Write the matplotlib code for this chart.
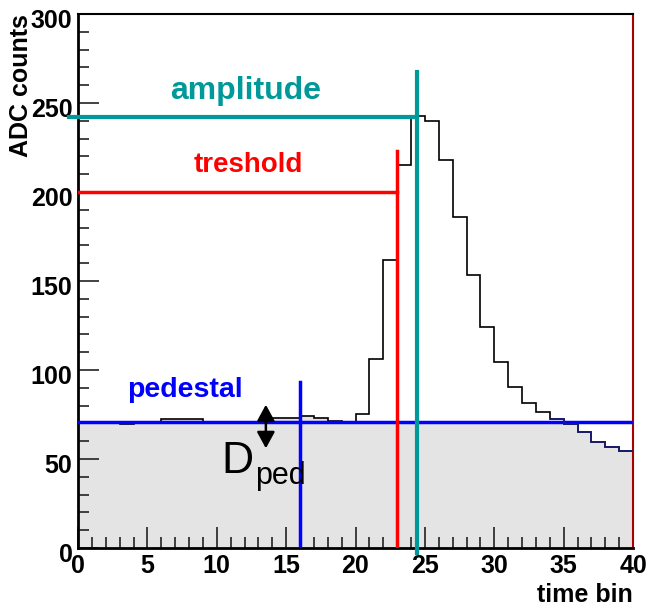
import numpy as np
import matplotlib.pyplot as plt
import matplotlib.transforms as mtransforms

plt.rcParams['font.family'] = ['Liberation Sans', 'DejaVu Sans']

# contenido de los bins (ADC counts por time bin)
edges = np.arange(0, 41)
counts = [71, 71, 71, 69.5, 70.5, 71, 72.3, 72.3, 72.3, 71,
          71, 71, 71, 71, 73.2, 73.2, 74.3, 73, 71.5, 70,
          75.3, 106.4, 161.8, 215, 242.5, 240, 218, 186, 153.4, 124.3,
          104.5, 90.3, 81.3, 76.4, 72.5, 69.5, 65.4, 59.7, 56.6, 54.5]
# parte rellena (gris) debajo del pedestal
fill_counts = [71, 71, 71, 69.5, 70.5, 71, 72.3, 72.3, 72.3, 71,
               71, 71, 71, 71, 73.2, 73.2, 74.3, 73, 71, 70,
               71, 71, 71, 71, 71, 71, 71, 71, 71, 71,
               71, 71, 71, 71, 71, 69.5, 65.4, 59.7, 56.6, 54.5]

pedestal = 71
ped_bin = 16.0
ped_top = 93.5
threshold = 200
thr_bin = 23.0
thr_top = 223
amplitude = 242.3
amp_bin = 24.43
amp_top = 267.5
arrow_bin = 13.54
arrow_y = (56, 80.5)

teal = '#009999'
red = '#ff0000'
blue = '#0000ff'

fig = plt.figure(figsize=(6.48, 6.10), dpi=100)
ax = fig.add_axes([78/648, 1-548/610, (633-78)/648, (548-14)/610])

ax.stairs(fill_counts, edges, fill=True, color='#e4e4e4', zorder=1)
ax.stairs(counts, edges, baseline=None, color='k', lw=1.2, zorder=2)
ax.stairs(counts[34:], edges[34:], baseline=None, color='#1a1a7a', lw=1.2, zorder=4)

# pedestal
ax.axhline(pedestal, color=blue, lw=2.5, zorder=3)
ax.plot([ped_bin, ped_bin], [0, ped_top], color=blue, lw=2.5, zorder=3)
ax.text(7.7, 89, 'pedestal', color=blue, fontsize=20.5, fontweight='bold',
        ha='center', va='center')

# treshold
ax.plot([0, thr_bin], [threshold, threshold], color=red, lw=2.5, zorder=3)
ax.plot([thr_bin, thr_bin], [0, thr_top], color=red, lw=2.5, zorder=3)
ax.text(12.3, 215, 'treshold', color=red, fontsize=20, fontweight='bold',
        ha='center', va='center')

# amplitude
ax.plot([-0.65, amp_bin], [amplitude, amplitude], color=teal, lw=3,
        zorder=5, clip_on=False)
ax.plot([amp_bin, amp_bin], [-3, amp_top], color=teal, lw=3, zorder=5,
        clip_on=False)
ax.text(12.1, 257, 'amplitude', color=teal, fontsize=23, fontweight='bold',
        ha='center', va='center')

# flecha D_ped
ax.annotate('', xy=(arrow_bin, arrow_y[0]), xytext=(arrow_bin, arrow_y[1]),
            arrowprops=dict(arrowstyle='<|-|>,head_length=0.55,head_width=0.3',
                            color='k', lw=1.8, mutation_scale=18,
                            shrinkA=0, shrinkB=0), zorder=6)
ax.text(10.3, 42.3, 'D', fontsize=32, ha='left', va='baseline', zorder=6)
ax.text(12.75, 36, 'ped', fontsize=22, ha='left', va='baseline', zorder=6)

ax.set_xlim(0, 40)
ax.set_ylim(0, 300)
ax.set_xticks(np.arange(0, 41, 5))
ax.set_xticks(np.arange(0, 41, 1), minor=True)
ax.set_yticks(np.arange(0, 301, 50))
ax.set_yticks(np.arange(0, 301, 10), minor=True)
ax.tick_params(which='both', direction='in', top=False, right=False,
               labelsize=18, width=1.2, color='#222222')
ax.tick_params(which='major', length=15)
ax.tick_params(which='minor', length=8)
ax.tick_params(axis='x', pad=4)
ax.tick_params(axis='y', pad=4)
for lab in ax.get_xticklabels() + ax.get_yticklabels():
    lab.set_fontweight('bold')
offset = mtransforms.ScaledTranslation(0, -3/72, fig.dpi_scale_trans)
for lab in ax.get_yticklabels():
    lab.set_transform(lab.get_transform() + offset)

for s in ['left', 'bottom']:
    ax.spines[s].set_linewidth(2)
ax.spines['top'].set_linewidth(1.5)
ax.spines['right'].set_color('#aa0000')
ax.spines['right'].set_linewidth(1.5)

ax.text(1.0, -0.065, 'time bin', transform=ax.transAxes, fontsize=18,
        fontweight='bold', ha='right', va='top')
fig.text(21/648, 1-14/610, 'ADC counts', rotation=90, fontsize=18,
         fontweight='bold', ha='center', va='top')

fig.savefig('out.png', dpi=100)
